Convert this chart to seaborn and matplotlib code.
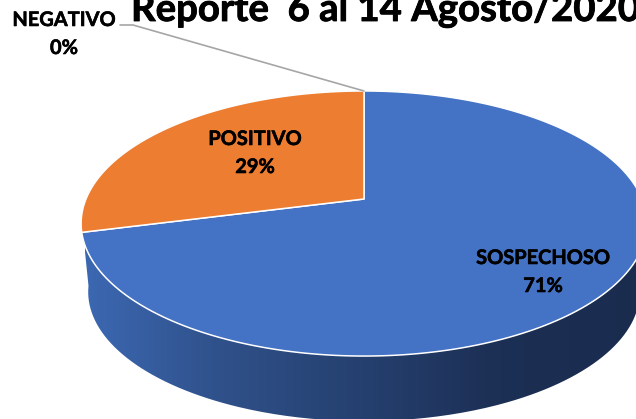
import numpy as np
import matplotlib
matplotlib.use("Agg")
import matplotlib.pyplot as plt
import matplotlib.patheffects as pe
from matplotlib.patches import PathPatch
from matplotlib.path import Path
import seaborn as sns

categories = ["SOSPECHOSO", "POSITIVO", "NEGATIVO"]
values = [71, 29, 0]
title = "Reporte  6 al 14 Agosto/2020"

colors = ["#4472C4", "#ED7D31", "#A5A5A5"]
side_stops = ["#3C68B2", "#2F5089", "#25406F", "#1C2F54", "#1A2C4E"]

sns.set_theme(style="white")
plt.rcParams["font.family"] = ["Lato", "DejaVu Sans"]


# tilted disc, angle is clockwise from the top
def rim(deg, scale=1.0, drop=0.0):
    t = np.radians(deg)
    u, v = np.sin(t), np.cos(t)
    w = 1 + 0.185 * v
    return 364 + scale * 278 * u / w, 199 + drop - scale * 128 * v / w


fig, ax = plt.subplots(figsize=(6.36, 4.19), dpi=100)
ax.set_position([0, 0, 1, 1])
ax.set_xlim(0, 636)
ax.set_ylim(419, 0)
ax.axis("off")

# side wall
deg = np.linspace(97, 262, 300)
x1, y1 = rim(deg)
x2, y2 = rim(deg, scale=0.975, drop=69)
wall = PathPatch(Path(np.r_[np.c_[x1, y1], np.c_[x2, y2][::-1]]), fc="none", ec="none")
ax.add_patch(wall)
cmap = sns.blend_palette(side_stops, n_colors=256, as_cmap=True)
grad = ax.imshow(np.linspace(0, 1, 256)[None, :], cmap=cmap, extent=(85, 640, 425, 200), aspect="auto", zorder=1)
grad.set_clip_path(wall)
ax.set_xlim(0, 636)
ax.set_ylim(419, 0)

# top of the pie
shares = np.array(values) / sum(values) * 360
ends = np.cumsum(shares)
for name, val, end, col in zip(categories, shares, ends, colors):
    if val == 0:
        continue
    a = np.linspace(end - val, end, 200)
    xs, ys = rim(a)
    ax.fill(np.r_[364, xs], np.r_[199, ys], fc=col, ec="white", lw=1.1, zorder=2, joinstyle="round")

# leader line for the empty slice
lx, ly = rim(ends[-1])
ax.plot([lx, 133, 120], [ly, 25, 25], color="#A6A6A6", lw=1.2, zorder=3)

lab = dict(ha="center", va="center", fontsize=14.4, fontweight="bold", color="black", linespacing=1.5, zorder=4,
           path_effects=[pe.withStroke(linewidth=0.4, foreground="black")])
ax.text(543, 272, f"{categories[0]}\n{values[0]}%", **lab)
ax.text(255, 153, f"{categories[1]}\n{values[1]}%", **lab)
ax.text(64, 34, f"{categories[2]}\n{values[2]}%", **lab)

ax.text(131, 21, title, ha="left", va="baseline", fontsize=27.6, fontweight="bold", color="black", zorder=4,
        path_effects=[pe.withStroke(linewidth=0.6, foreground="black")])

fig.savefig("out.png", dpi=100)
